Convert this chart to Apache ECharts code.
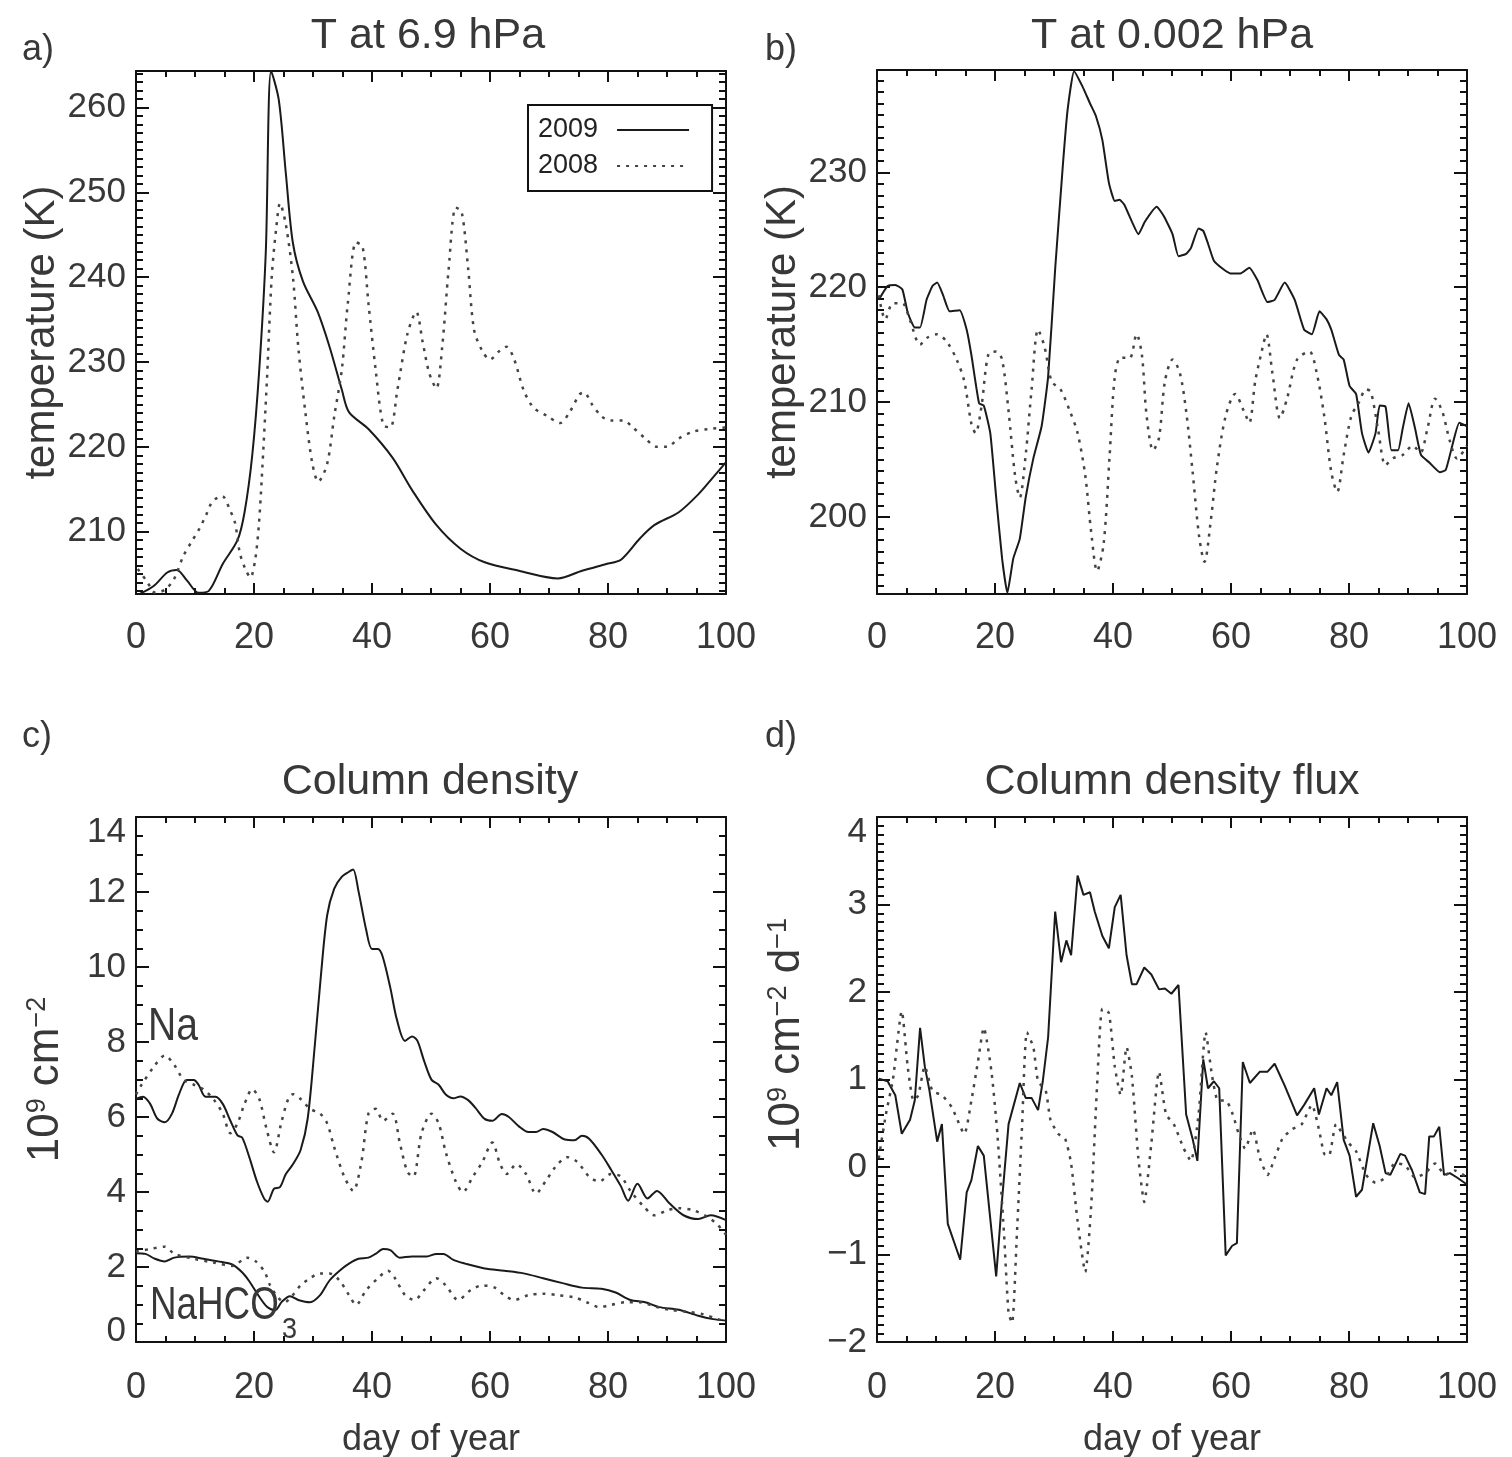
<!DOCTYPE html>
<html><head><meta charset="utf-8">
<script src="https://cdn.jsdelivr.net/npm/echarts@6/dist/echarts.min.js"></script>
<style>html,body{margin:0;padding:0;background:#fff}#c{width:1512px;height:1457px}</style>
</head><body><div id="c"></div>
<script>
// ---------- tick labels ----------
const DAY_TICKS = [0, 20, 40, 60, 80, 100];
const A_YTICKS = [210, 220, 230, 240, 250, 260];
const B_YTICKS = [200, 210, 220, 230];
const C_YTICKS = [0, 2, 4, 6, 8, 10, 12, 14];
const D_YTICKS = [-2, -1, 0, 1, 2, 3, 4];

// ---------- panel a: T at 6.9 hPa ----------
const A_2009 = [[0.7,202.7],[3,203.6],[5.3,205.2],[6.9,205.5],[8.7,204.2],[10.6,202.8],[12.3,203.0],[14.7,206.2],[17.2,209.0],[18.4,212.3],[19.7,219.0],[20.9,229.2],[22.0,243.0],[22.9,264.3],[24.2,260.9],[25.4,252.2],[26.6,244.0],[28.3,239.5],[30.8,235.9],[32.8,231.8],[34.9,226.7],[36.1,224.1],[39.4,222.1],[43.5,218.7],[46.8,214.9],[50.9,210.8],[55.0,208.0],[59.1,206.4],[64.9,205.4],[71.5,204.5],[75.6,205.4],[79.7,206.2],[82.2,206.7],[85.4,209.2],[87.9,210.8],[92,212.3],[95.3,214.4],[97.8,216.4],[100,218.2]];
const A_2008 = [[0.3,205.6],[1.8,204.2],[3.3,202.8],[5,203.2],[6.5,204.5],[8.0,207.1],[9.4,208.8],[10.7,210.3],[11.9,212.0],[13.0,213.6],[14.6,214.2],[15.9,212.6],[16.8,211.0],[17.6,207.5],[18.6,205.5],[19.4,204.6],[20.2,206.7],[20.8,210.6],[21.3,216.1],[22.2,228],[23.0,240],[23.8,246],[24.4,248.7],[25.4,246.2],[26.6,240],[27.5,231.8],[28.7,224.1],[29.9,218],[30.9,215.9],[32.4,218],[33.6,223.6],[34.9,229.2],[35.9,236.9],[37.3,244.1],[38.4,243.6],[39.4,236.9],[40.6,229.2],[41.9,222.6],[43.1,222.3],[44.3,226.7],[46.0,233.3],[47.5,235.9],[48.6,232.3],[49.7,228.7],[50.9,226.9],[51.9,231.8],[53.0,241],[54.2,248.2],[55.2,247.7],[56.3,241],[57.3,233.8],[58.7,231.3],[60,230.3],[61.6,231.3],[62.8,231.8],[64.1,230.3],[65.7,226.7],[67.4,224.6],[69.8,223.6],[71.9,222.8],[73.5,224.1],[75.2,226.2],[76,226.4],[77.2,225.1],[78.9,223.6],[80.5,223.1],[82.6,223.1],[84.2,222.3],[86.3,221.0],[88.3,220],[90,220],[92,221],[94.5,221.8],[97,222.1],[100,222.3]];

// ---------- panel b: T at 0.002 hPa ----------
const B_2009 = [[0.3,218.9],[1.8,220.1],[3.1,220.2],[4.3,219.8],[5.2,217.8],[6.4,216.5],[7.3,216.5],[8.4,218.9],[9.4,220.1],[10.2,220.4],[11.2,219.3],[12.3,217.9],[14.0,218.0],[15.2,216.3],[16.0,214.1],[17.3,209.9],[18.1,209.7],[19.2,207.3],[20.2,201.7],[21.2,196.4],[22.1,193.4],[23.1,196.4],[24.2,198.1],[25.2,201.7],[26.5,205.1],[27.9,207.9],[29.0,212.2],[30.2,221.6],[31.5,230.6],[32.3,235.4],[33.4,238.8],[34.8,237.5],[36.1,236.0],[37.1,234.9],[38.2,232.8],[39.3,229.1],[40.3,227.5],[41.1,227.6],[41.9,227.2],[43.2,225.7],[44.3,224.6],[45.4,225.7],[47.4,227.0],[48.6,226.2],[50.1,224.6],[51.1,222.7],[52.4,222.9],[53.2,223.4],[54.5,225.1],[55.3,224.9],[56.1,223.8],[57.1,222.3],[58.6,221.6],[59.9,221.2],[61.6,221.2],[63.1,221.7],[64.5,220.6],[66.2,218.7],[67.4,218.9],[69.1,220.4],[70.8,218.9],[72.4,216.3],[73.7,215.9],[75.0,217.9],[76.2,217.2],[77.0,216.3],[78.3,214.1],[79.1,213.7],[80.1,211.4],[81.2,210.7],[82.2,207.3],[83.3,205.6],[84.5,207.3],[85.2,209.7],[86.2,209.6],[87.2,205.8],[88.3,205.8],[89.1,207.7],[90.1,209.9],[91.2,207.7],[92.2,205.4],[93.7,204.7],[95.4,203.9],[96.4,204.1],[97.5,206.2],[98.7,208.2],[100,207.9]];
const B_2008 = [[0.3,219.3],[1.4,217.2],[2.7,218.6],[4.3,218.6],[5.6,217.1],[7.3,215.0],[8.5,215.6],[10.2,215.9],[11.9,215.2],[13.5,213.7],[14.8,211.8],[16.0,208.1],[16.7,207.3],[17.7,209.6],[18.9,214.2],[20.2,214.4],[21.2,213.7],[22.3,209.2],[23.4,203.6],[24.2,201.7],[25.2,205.4],[26.2,211.1],[27.3,216.3],[28.4,214.8],[29.6,211.8],[31.1,211.1],[32.7,209.2],[34.0,207.3],[35.3,203.6],[36.3,198.7],[37.3,195.3],[38.4,197.6],[39.4,205.1],[40.3,212.2],[41.3,213.9],[42.8,213.8],[44.0,215.9],[44.9,214.1],[45.7,208.8],[46.8,205.8],[47.8,206.9],[48.8,211.8],[50.1,213.7],[51.3,212.6],[52.4,209.2],[53.5,203.9],[54.6,198.3],[55.5,196.1],[56.6,199.8],[57.6,204.3],[59.1,208.8],[60.7,210.7],[62.2,209.2],[63.1,208.2],[64.1,211.8],[65.2,214.4],[66.0,215.9],[67.0,212.6],[68.3,208.6],[69.5,210.3],[71.2,213.7],[73.3,214.4],[74.5,212.6],[75.8,208.8],[77.0,203.9],[78.0,202.2],[79.1,205.4],[80.4,208.8],[81.6,209.9],[82.9,211.1],[83.7,210.9],[84.9,207.7],[86.2,204.5],[87.4,205.1],[89.1,205.4],[90.8,206.2],[92.1,205.6],[93.3,207.7],[94.6,210.3],[95.8,209.2],[97.1,206.6],[98.3,205.1],[100,206.2]];

// ---------- panel c: column density ----------
const C_NA_2009 = [[0,6.48],[1.2,6.54],[2.4,6.35],[3.6,5.96],[4.9,5.86],[6.1,6.09],[7.3,6.61],[8.6,6.99],[9.8,6.99],[10.6,6.86],[11.8,6.54],[13.5,6.54],[14.7,6.35],[16.0,5.9],[17.2,5.51],[18.0,5.45],[19.2,4.93],[20.5,4.28],[21.7,3.83],[22.3,3.74],[23.4,4.09],[24.4,4.13],[25.4,4.48],[26.6,4.74],[27.9,5.12],[29.1,5.96],[30.3,7.9],[31.3,9.7],[32.4,11.38],[33.6,12.09],[34.9,12.41],[36.1,12.54],[36.8,12.6],[37.7,12.03],[39.0,11.0],[40.0,10.48],[41.0,10.48],[41.8,10.28],[43.1,9.45],[44.2,8.61],[45.6,8.03],[46.8,8.15],[47.7,8.03],[48.8,7.51],[50.1,6.99],[51.3,6.86],[52.5,6.6],[53.8,6.5],[55.0,6.55],[56.3,6.45],[57.5,6.25],[59.1,5.95],[60.4,5.9],[62.0,6.08],[63.2,6.0],[64.9,5.75],[66.5,5.6],[67.8,5.6],[69.0,5.68],[70.6,5.6],[72.7,5.4],[74.3,5.38],[75.6,5.5],[76.8,5.42],[78.9,5.0],[80.5,4.6],[82.2,4.15],[83.4,3.77],[85.0,4.22],[86.7,3.83],[88.3,4.03],[90.4,3.7],[92.8,3.38],[95.3,3.28],[97.4,3.38],[100,3.25]];
const C_NA_2008 = [[0,6.6],[0.7,6.8],[3.2,7.38],[4.9,7.64],[6.5,7.38],[8.1,6.99],[9.8,6.86],[11.4,6.74],[13.1,6.48],[14.7,6.09],[16.0,5.57],[17.2,5.83],[18.4,6.35],[19.7,6.74],[20.9,6.48],[22.1,5.7],[23.4,5.06],[24.6,5.83],[25.8,6.48],[26.6,6.61],[27.9,6.48],[29.5,6.22],[31.2,6.09],[32.4,5.83],[33.6,5.19],[35.3,4.41],[36.8,4.03],[38.2,4.8],[39.4,6.09],[40.6,6.22],[41.9,5.9],[43.5,6.09],[44.7,5.32],[46.0,4.54],[47.0,4.41],[48.4,5.57],[50.1,6.09],[51.3,5.83],[52.5,5.06],[54.2,4.28],[55.4,4.0],[57.1,4.41],[58.7,4.8],[60.4,5.32],[61.6,4.8],[62.8,4.48],[64.5,4.74],[66.1,4.48],[67.8,3.96],[69.4,4.28],[71.1,4.67],[73.1,4.93],[74.8,4.8],[76.8,4.41],[78.5,4.28],[80.5,4.48],[82.2,4.41],[83.8,4.03],[85.9,3.64],[87.9,3.38],[90.0,3.51],[92.0,3.57],[94.5,3.51],[97.0,3.32],[98.6,3.12],[100,2.86]];
const C_HCO3_2009 = [[0,2.37],[1.6,2.35],[3.2,2.22],[4.9,2.15],[6.5,2.25],[9.0,2.28],[11.4,2.22],[13.9,2.15],[16.4,2.06],[18.1,1.84],[19.2,1.62],[20.5,1.3],[22.2,0.94],[23.6,0.85],[24.7,1.07],[26.1,1.22],[27.5,1.12],[29.5,1.06],[31.2,1.25],[32.8,1.64],[34.5,1.9],[36.1,2.09],[37.7,2.22],[39.4,2.25],[40.6,2.35],[41.9,2.48],[43.1,2.45],[44.7,2.25],[46.8,2.28],[49.3,2.28],[50.9,2.35],[52.1,2.35],[53.8,2.19],[55.8,2.09],[59.1,1.96],[62.4,1.9],[65.7,1.83],[69.0,1.7],[72.3,1.57],[75.6,1.45],[78.9,1.42],[81.3,1.32],[83.8,1.12],[86.3,1.06],[88.7,0.93],[92.0,0.86],[95.3,0.7],[97.8,0.61],[100,0.57]];
const C_HCO3_2008 = [[0,2.41],[2.4,2.48],[4.9,2.54],[6.5,2.35],[9.8,2.22],[13.1,2.12],[16.4,2.03],[18.8,2.25],[20.3,2.15],[21.8,1.87],[22.7,1.52],[24.0,1.2],[25.2,1.06],[26.4,1.22],[27.9,1.51],[29.5,1.7],[31.2,1.83],[32.8,1.83],[34.5,1.64],[36.1,1.25],[37.3,0.99],[39.0,1.38],[41.0,1.7],[42.7,1.9],[43.9,1.7],[45.6,1.25],[47.2,1.12],[48.8,1.38],[50.9,1.7],[52.5,1.51],[54.6,1.12],[56.7,1.38],[58.7,1.51],[60.8,1.45],[62.4,1.25],[64.1,1.12],[66.5,1.25],[69.0,1.29],[71.5,1.25],[74.3,1.19],[76.4,1.06],[78.5,0.93],[80.5,0.99],[83.0,1.06],[85.4,1.06],[87.9,0.95],[90.4,0.86],[93.7,0.8],[96.1,0.74],[98.6,0.61],[100,0.54]];

// ---------- panel d: column density flux ----------
const D_2009 = [[0.3,1.01],[1.8,0.98],[3.1,0.82],[4.2,0.38],[5.6,0.54],[6.4,0.76],[7.3,1.59],[8.1,1.15],[8.9,0.87],[10.2,0.29],[11.0,0.49],[12.0,-0.65],[14.1,-1.06],[15.2,-0.29],[16.0,-0.15],[17.1,0.24],[18.1,0.13],[20.2,-1.25],[21.1,-0.45],[22.3,0.49],[24.2,0.96],[25.2,0.79],[26.2,0.79],[27.3,0.65],[28.1,0.98],[29.0,1.48],[30.2,2.92],[31.2,2.34],[32.1,2.59],[32.9,2.42],[34.0,3.33],[35.0,3.11],[36.1,3.14],[36.9,2.92],[38.2,2.64],[39.3,2.5],[40.3,2.97],[41.3,3.11],[42.3,2.42],[43.2,2.09],[44.0,2.09],[45.3,2.28],[46.5,2.2],[47.8,2.03],[48.8,2.04],[49.9,1.98],[51.1,2.08],[52.4,0.6],[53.5,0.32],[54.3,0.07],[55.3,1.23],[56.1,0.9],[57.1,0.98],[58.0,0.9],[59.1,-1.01],[60.2,-0.9],[61.0,-0.87],[62.0,1.2],[63.2,0.96],[64.9,1.09],[66.2,1.09],[67.4,1.18],[69.1,0.93],[71.2,0.59],[72.4,0.71],[74.1,0.9],[74.9,0.6],[76.2,0.9],[77.0,0.82],[78.0,0.97],[79.1,0.31],[80.1,0.13],[81.2,-0.34],[82.2,-0.26],[84.1,0.5],[85.2,0.24],[86.2,-0.07],[87.0,-0.09],[88.7,0.15],[89.5,0.13],[90.7,-0.04],[92.0,-0.29],[92.9,-0.31],[93.6,0.35],[94.4,0.35],[95.3,0.46],[96.1,-0.09],[97.1,-0.07],[98.3,-0.12],[100,-0.2]];
const D_2008 = [[0.3,0.1],[1.5,0.6],[2.7,1.0],[4.2,1.78],[5.2,1.15],[6.2,0.76],[7.0,0.82],[8.1,1.15],[9.4,0.87],[11.0,0.82],[12.7,0.68],[14.8,0.38],[16.0,0.76],[17.1,1.2],[18.1,1.59],[19.4,1.09],[20.4,0.38],[21.5,-0.73],[22.3,-1.67],[22.9,-1.78],[23.7,-0.78],[24.6,0.49],[25.4,1.54],[26.5,1.37],[27.3,0.98],[28.6,0.87],[29.4,0.54],[30.7,0.38],[31.9,0.32],[32.9,0.04],[34.0,-0.62],[35.3,-1.2],[36.3,-0.45],[37.3,0.93],[38.2,1.81],[39.3,1.76],[40.3,1.15],[41.3,0.82],[42.3,1.37],[43.2,1.04],[44.3,0.1],[45.3,-0.4],[46.5,0.27],[47.8,1.09],[49.0,0.6],[50.3,0.49],[52.0,0.21],[53.2,0.07],[54.5,0.6],[55.7,1.54],[56.8,1.04],[57.8,0.76],[59.1,0.76],[60.3,0.6],[61.3,0.38],[62.4,0.21],[63.7,0.43],[64.9,0.1],[66.2,-0.09],[67.4,0.1],[68.7,0.32],[70.3,0.43],[72.0,0.49],[73.7,0.71],[74.9,0.43],[75.8,0.15],[76.6,0.13],[77.8,0.49],[78.9,0.38],[80.0,0.27],[81.2,0.18],[82.9,-0.09],[84.5,-0.18],[86.2,-0.12],[87.8,0.04],[89.5,0.02],[91.2,-0.12],[92.9,-0.07],[94.6,0.04],[96.3,-0.09],[97.9,-0.04],[100,-0.12]];

// ---------- styling ----------
const FONT = "'Liberation Sans', Arial, sans-serif";
const INK = '#111';
const TXT = '#383838';
const SOLID = {color: '#1a1a1a', width: 2};
const DOTTED = {color: '#444', width: 2.5, type: [3, 6]};

const grids = [
  {left: 136, top: 71, width: 590, height: 523},
  {left: 877, top: 70, width: 590, height: 524},
  {left: 136, top: 817, width: 590, height: 525},
  {left: 877, top: 817, width: 590, height: 525}
];

const xAxis = [], yAxis = [];
const lineSt = {color: INK, width: 2};
const axLine = {show: true, onZero: false, lineStyle: lineSt};
const noLine = {show: false, onZero: false};

function addX(gi, withName, margin) {
  const idx = xAxis.length;
  const base = {
    type: 'value', gridIndex: gi, min: 0, max: 100, interval: 20,
    axisLine: axLine,
    axisTick: {show: true, inside: true, length: 11, lineStyle: lineSt},
    minorTick: {show: true, splitNumber: 4, length: 6, lineStyle: lineSt},
    splitLine: {show: false}, minorSplitLine: {show: false}
  };
  xAxis.push(Object.assign({}, base, {
    position: 'bottom',
    axisLabel: {show: true, margin: margin, fontSize: 36, color: TXT, fontFamily: FONT,
      customValues: DAY_TICKS},
    name: withName ? 'day of year' : '', nameLocation: 'middle', nameGap: 80,
    nameTextStyle: {fontSize: 36, color: TXT, fontFamily: FONT}
  }));
  xAxis.push(Object.assign({}, base, {position: 'top', axisLabel: {show: false}}));
  return idx;
}

function yBase(gi, min, max) {
  return {type: 'value', gridIndex: gi, min: min, max: max, splitLine: {show: false}, minorSplitLine: {show: false}};
}

function addYCustom(gi, min, max, majors, minors, name) {
  const idx = yAxis.length;
  const lab = {show: true, margin: 10, fontSize: 35, color: TXT, fontFamily: FONT, customValues: majors};
  yAxis.push(Object.assign(yBase(gi, min, max), {
    position: 'left', axisLine: axLine,
    axisTick: {show: true, inside: true, length: 13, lineStyle: lineSt, customValues: majors},
    axisLabel: lab,
    name: name, nameLocation: 'middle', nameRotate: 90, nameGap: 72,
    nameTextStyle: {fontSize: 42, color: TXT, fontFamily: FONT}
  }));
  yAxis.push(Object.assign(yBase(gi, min, max), {
    position: 'left', axisLine: noLine,
    axisTick: {show: true, inside: true, length: 7, lineStyle: lineSt, customValues: minors},
    axisLabel: {show: false}
  }));
  yAxis.push(Object.assign(yBase(gi, min, max), {
    position: 'right', axisLine: axLine,
    axisTick: {show: true, inside: true, length: 13, lineStyle: lineSt, customValues: majors},
    axisLabel: {show: false}
  }));
  yAxis.push(Object.assign(yBase(gi, min, max), {
    position: 'right', axisLine: noLine,
    axisTick: {show: true, inside: true, length: 7, lineStyle: lineSt, customValues: minors},
    axisLabel: {show: false}
  }));
  return idx;
}

function addYInterval(gi, min, max, interval, minorSplit, name, labelFmt, rich, namePad) {
  const idx = yAxis.length;
  yAxis.push(Object.assign(yBase(gi, min, max), {
    position: 'left', interval: interval,
    axisLine: axLine,
    axisTick: {show: true, inside: true, length: 13, lineStyle: lineSt},
    minorTick: {show: true, splitNumber: minorSplit, length: 7, lineStyle: lineSt},
    axisLabel: {show: true, margin: 10, fontSize: 35, color: TXT, fontFamily: FONT,
      formatter: labelFmt, rich: rich},
    name: name, nameLocation: 'middle', nameRotate: 90, nameGap: 68,
    nameTextStyle: {fontSize: 44, color: TXT, fontFamily: FONT, padding: namePad || 0,
      rich: {s: {fontSize: 27, color: TXT, fontFamily: FONT, verticalAlign: 'top'}}}
  }));
  yAxis.push(Object.assign(yBase(gi, min, max), {
    position: 'right', interval: interval,
    axisLine: axLine,
    axisTick: {show: true, inside: true, length: 13, lineStyle: lineSt},
    minorTick: {show: true, splitNumber: minorSplit, length: 7, lineStyle: lineSt},
    axisLabel: {show: false}
  }));
  return idx;
}

function intRange(a, b) { const r = []; for (let v = a; v <= b; v++) r.push(v); return r; }

const labRich = {
  t: {padding: [30, 0, 0, 0], fontSize: 35, color: TXT, fontFamily: FONT},
  b: {padding: [0, 0, 22, 0], fontSize: 35, color: TXT, fontFamily: FONT}
};

const xa = addX(0, false, 26), xb = addX(1, false, 26), xc = addX(2, true, 28), xd = addX(3, true, 28);
const ya = addYCustom(0, 202.66, 264.3, A_YTICKS, intRange(203, 264), 'temperature (K)');
const yb = addYCustom(1, 193.3, 238.9, B_YTICKS, intRange(194, 238), 'temperature (K)');
const yc = addYInterval(2, C_YTICKS[0], C_YTICKS[C_YTICKS.length - 1], 2, 4, '10{s|9} cm{s|\u22122}',
  v => v === 14 ? '{t|14}' : (v === 0 ? '{b|0}' : String(v)), labRich);
const yd = addYInterval(3, D_YTICKS[0], D_YTICKS[D_YTICKS.length - 1], 1, 10, '10{s|9} cm{s|\u22122} d{s|\u22121}',
  v => v === 4 ? '{t|4}' : String(v).replace('-', '\u2212'), labRich, [0, 0, 0, 90]);

function ser(name, xi, yi, data, style, smooth) {
  return {type: 'line', name: name, xAxisIndex: xi, yAxisIndex: yi, data: data,
    showSymbol: false, symbol: 'none', symbolSize: 0, smooth: smooth, lineStyle: style,
    itemStyle: {color: style.color, opacity: 0}, z: 3, animation: false};
}

const series = [
  ser('2009', xa, ya, A_2009, SOLID, 0.3),
  ser('2008', xa, ya, A_2008, DOTTED, 0.3),
  ser('b 2009', xb, yb, B_2009, SOLID, 0.15),
  ser('b 2008', xb, yb, B_2008, DOTTED, 0.3),
  ser('Na 2009', xc, yc, C_NA_2009, SOLID, 0.3),
  ser('Na 2008', xc, yc, C_NA_2008, DOTTED, 0.3),
  ser('NaHCO3 2009', xc, yc, C_HCO3_2009, SOLID, 0.3),
  ser('NaHCO3 2008', xc, yc, C_HCO3_2008, DOTTED, 0.3),
  ser('flux 2009', xd, yd, D_2009, SOLID, false),
  ser('flux 2008', xd, yd, D_2008, DOTTED, 0.2)
];

function txt(text, x, y, size, align, extra) {
  return Object.assign({type: 'text', x: x, y: y, z: 10,
    style: {text: text, fontSize: size, fontFamily: FONT, fill: TXT, align: align || 'left', verticalAlign: 'middle'}}, extra || {});
}

const graphic = [
  txt('a)', 22, 50, 36), txt('b)', 765, 50, 36), txt('c)', 22, 737, 36), txt('d)', 765, 737, 36),
  txt('T at 6.9 hPa', 428, 36, 43, 'center'),
  txt('T at 0.002 hPa', 1172, 36, 43, 'center'),
  txt('Column density', 430, 782, 43, 'center'),
  txt('Column density flux', 1172, 782, 43, 'center'),
  txt('Na', 148, 1027, 46, 'left', {scaleX: 0.85}),
  txt('NaHCO', 150, 1306, 46, 'left', {scaleX: 0.8}),
  txt('3', 282, 1330, 30, 'left', {scaleX: 0.9})
];

const chart = echarts.init(document.getElementById('c'), null, {renderer: 'canvas'});
chart.setOption({
  backgroundColor: '#fff',
  animation: false,
  grid: grids.map(g => Object.assign({containLabel: false, outerBoundsMode: 'none'}, g)),
  xAxis: xAxis,
  yAxis: yAxis,
  legend: {
    data: ['2009', '2008'], orient: 'vertical', left: 528, top: 105,
    align: 'right', itemWidth: 72, itemHeight: 14, itemGap: 6,
    padding: [10, 22, 10, 10], borderColor: INK, borderWidth: 2, backgroundColor: '#fff',
    selectedMode: false,
    itemStyle: {opacity: 0},
    textStyle: {fontSize: 27, color: '#222', fontFamily: FONT, lineHeight: 30, padding: [0, 14, 0, 0]}
  },
  series: series,
  graphic: graphic
});
</script></body></html>
